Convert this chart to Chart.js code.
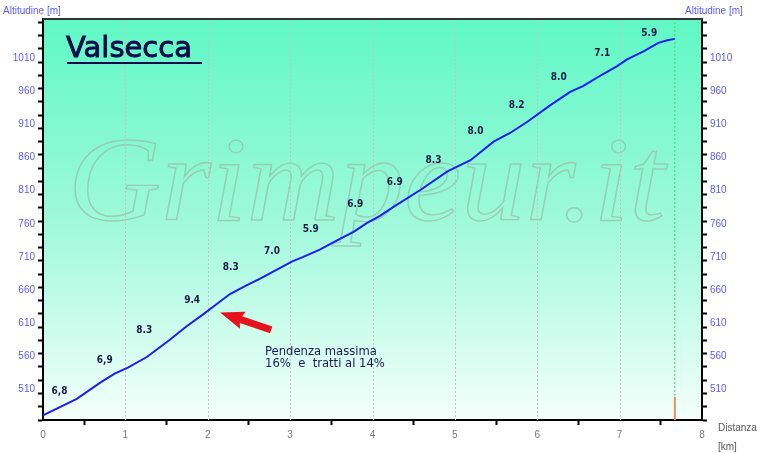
<!DOCTYPE html>
<html>
<head>
<meta charset="utf-8">
<title>Valsecca</title>
<script src="https://cdn.jsdelivr.net/npm/chart.js@4.4.0/dist/chart.umd.min.js"></script>
<style>
  html, body { margin: 0; padding: 0; background: #fff; }
</style>
</head>
<body>
<canvas id="MiGrafico" width="760" height="453"></canvas>
<script>
// profilo della salita: distanza (km) e altitudine (m)
var distanze = [0.00, 0.41, 0.69, 0.87, 1.03, 1.26, 1.54, 1.74, 1.94, 2.11, 2.27, 2.47, 2.63, 2.84, 3.02, 3.16, 3.36, 3.57, 3.77, 3.93,
                4.09, 4.26, 4.58, 4.91, 5.19, 5.47, 5.67, 5.88, 6.16, 6.40, 6.56, 6.80, 6.97, 7.09, 7.29, 7.47, 7.58, 7.67];
var altitudini = [471, 496, 520, 534, 543, 559, 585, 605, 623, 639, 654, 667, 677, 691, 703, 710, 721, 735, 748, 761,
                  772, 786, 811, 839, 856, 884, 897, 914, 939, 959, 968, 986, 998, 1008, 1020, 1033, 1037, 1039];

// pendenze medie per tratto (%) e dove sono scritte
var pendenze = ['6,8', '6,9', '8.3', '9.4', '8.3', '7.0', '5.9', '6.9', '6.9', '8.3', '8.0', '8.2', '8.0', '7.1', '5.9'];
var pendenzeKm = [0.20, 0.75, 1.23, 1.81, 2.28, 2.78, 3.25, 3.79, 4.27, 4.74, 5.25, 5.75, 6.26, 6.79, 7.36];
var pendenzeQuota = [507, 554, 599, 644, 694, 719, 751, 790, 823, 855, 899, 938, 981, 1017, 1048];

// assi
var etichetteY = [510, 560, 610, 660, 710, 760, 810, 860, 910, 960, 1010];
var taccheY = [464, 484, 504, 524, 544, 564, 584, 604, 624, 644, 664, 684, 704, 724, 744, 764,
               784, 804, 824, 844, 864, 884, 904, 924, 944, 964, 984, 1004, 1024, 1044, 1064];
var tacchePlusEtichetteY = taccheY.concat(etichetteY);
var tickX = [0, 0.5, 1, 1.5, 2, 2.5, 3, 3.5, 4, 4.5, 5, 5.5, 6, 6.5, 7, 7.5, 8];
var quotaMin = 464, quotaMax = 1069;
var fineKm = 7.67;
var barraQuota = 499;

// freccia e nota
var frecciaPunta = {x: 2.15, y: 626};
var frecciaCoda = {x: 2.77, y: 600};

var profilo = distanze.map(function (d, i) { return {x: d, y: altitudini[i]}; });

var decorazioni = {
  id: 'decorazioni',
  beforeDraw: function (chart) {
    var ctx = chart.ctx, a = chart.chartArea;
    var g = ctx.createLinearGradient(0, a.top, 0, a.bottom);
    g.addColorStop(0, '#60f8c5');
    g.addColorStop(0.5, '#9ef9da');
    g.addColorStop(1, '#f4fffb');
    ctx.save();
    ctx.fillStyle = g;
    ctx.fillRect(a.left, a.top, a.right - a.left, a.bottom - a.top);
    ctx.restore();
  },
  beforeDatasetsDraw: function (chart) {
    var ctx = chart.ctx, a = chart.chartArea, xs = chart.scales.x;
    ctx.save();
    // scritta in filigrana (allargata in orizzontale)
    ctx.font = 'italic 120px "Liberation Serif"';
    var w = ctx.measureText('Grimpeur.it').width;
    var sx = 597 / w;
    ctx.translate(68, 220);
    ctx.scale(sx, 1);
    ctx.strokeStyle = 'rgba(150,196,176,0.8)';
    ctx.lineWidth = 1.4;
    ctx.textBaseline = 'alphabetic';
    ctx.strokeText('Grimpeur.it', 0, 0);
    ctx.setTransform(1, 0, 0, 1, 0, 0);
    // griglia verticale tratteggiata
    ctx.strokeStyle = '#c4c4c4';
    ctx.lineWidth = 1;
    ctx.setLineDash([2, 2]);
    for (var k = 1; k <= 7; k++) {
      var px = Math.round(xs.getPixelForValue(k)) + 0.5;
      ctx.beginPath();
      ctx.moveTo(px, a.top);
      ctx.lineTo(px, a.bottom);
      ctx.stroke();
    }
    ctx.restore();
  },
  afterDatasetsDraw: function (chart) {
    var ctx = chart.ctx, a = chart.chartArea, xs = chart.scales.x, ys = chart.scales.y;
    ctx.save();
    // bordo superiore
    ctx.strokeStyle = '#333';
    ctx.lineWidth = 2;
    ctx.beginPath();
    ctx.moveTo(a.left, a.top);
    ctx.lineTo(a.right, a.top);
    ctx.stroke();

    // pendenze
    ctx.font = 'bold 10px "DejaVu Sans Condensed", "DejaVu Sans"';
    ctx.fillStyle = '#1b1b48';
    ctx.textAlign = 'center';
    ctx.textBaseline = 'middle';
    pendenze.forEach(function (p, i) {
      ctx.fillText(p, xs.getPixelForValue(pendenzeKm[i]), ys.getPixelForValue(pendenzeQuota[i]));
    });

    // titolo
    ctx.font = '29px "DejaVu Sans"';
    ctx.fillStyle = '#0c0c4a';
    ctx.strokeStyle = '#0c0c4a';
    ctx.lineWidth = 0.9;
    ctx.textAlign = 'left';
    ctx.textBaseline = 'alphabetic';
    ctx.fillText('Valsecca', 66, 57);
    ctx.strokeText('Valsecca', 66, 57);
    ctx.fillRect(67, 62, 135, 2);

    // freccia rossa
    var tx = xs.getPixelForValue(frecciaPunta.x), ty = ys.getPixelForValue(frecciaPunta.y);
    var cx = xs.getPixelForValue(frecciaCoda.x), cy = ys.getPixelForValue(frecciaCoda.y);
    var ang = Math.atan2(cy - ty, cx - tx);
    var len = Math.hypot(cx - tx, cy - ty);
    ctx.translate(tx, ty);
    ctx.rotate(ang);
    ctx.fillStyle = '#e8121c';
    ctx.beginPath();
    ctx.moveTo(0, 0);
    ctx.lineTo(24, -9);
    ctx.lineTo(22, -3.5);
    ctx.lineTo(len, -3.5);
    ctx.lineTo(len, 3.5);
    ctx.lineTo(22, 3.5);
    ctx.lineTo(24, 9);
    ctx.closePath();
    ctx.fill();
    ctx.setTransform(1, 0, 0, 1, 0, 0);

    // nota
    ctx.font = '11.6px "DejaVu Sans"';
    ctx.fillStyle = '#1a1a58';
    ctx.textBaseline = 'middle';
    ctx.fillText('Pendenza massima', 265, 352);
    ctx.fillText('16%  e  tratti al 14%', 265, 364);

    // titoli degli assi
    ctx.font = '10px "Liberation Sans"';
    ctx.fillStyle = '#5a5aff';
    ctx.fillText('Altitudine [m]', 3, 11);
    ctx.fillText('Altitudine [m]', 685, 11);
    ctx.fillStyle = '#555';
    ctx.fillText('Distanza', 718, 428);
    ctx.fillText('[km]', 718, 447);
    ctx.restore();
  }
};

var miGrafico = document.getElementById('MiGrafico').getContext('2d');

var asseY = function (pos, larghezza) {
  return {
    type: 'linear',
    position: pos,
    min: quotaMin,
    max: quotaMax,
    afterBuildTicks: function (s) {
      s.ticks = tacchePlusEtichetteY.map(function (v) { return {value: v}; });
    },
    afterFit: function (s) { s.width = larghezza; },
    ticks: {
      autoSkip: false,
      color: '#5a5aff',
      padding: 3,
      font: {family: 'Liberation Sans', size: 10},
      callback: function (v) { return etichetteY.indexOf(v) >= 0 ? String(v) : ''; }
    },
    grid: {
      drawOnChartArea: false,
      tickLength: 5,
      tickWidth: 2,
      tickColor: function (c) { return etichetteY.indexOf(c.tick.value) >= 0 ? 'rgba(0,0,0,0)' : '#000'; }
    },
    border: {display: true, color: '#000', width: 2}
  };
};

var chart = new Chart(miGrafico, {
  type: 'line',
  data: {
    datasets: [
      {
        label: 'Altitudine',
        data: profilo,
        borderColor: '#1d1df2',
        borderWidth: 2,
        pointRadius: 0,
        tension: 0,
        fill: false
      },
      {
        label: 'Barra',
        data: [{x: fineKm, y: quotaMin}, {x: fineKm, y: barraQuota}],
        borderColor: '#e8906c',
        borderWidth: 2,
        pointRadius: 0
      },
      {
        label: 'Arrivo',
        data: [{x: fineKm, y: quotaMin}, {x: fineKm, y: quotaMax}],
        borderColor: '#3ee03e',
        borderWidth: 1,
        borderDash: [2, 2],
        pointRadius: 0
      }
    ]
  },
  options: {
    responsive: false,
    animation: false,
    devicePixelRatio: 1,
    layout: {padding: {top: 19, left: 0, right: 0, bottom: 0}},
    plugins: {legend: {display: false}, tooltip: {enabled: false}},
    scales: {
      x: {
        type: 'linear',
        min: 0,
        max: 8,
        afterBuildTicks: function (s) {
          s.ticks = tickX.map(function (v) { return {value: v}; });
        },
        afterFit: function (s) { s.height = 33; },
        ticks: {
          autoSkip: false,
          maxRotation: 0,
          color: '#7a7a7a',
          padding: 4,
          font: {family: 'Liberation Sans', size: 10},
          callback: function (v) { return Number.isInteger(v) ? String(v) : ''; }
        },
        grid: {
          drawOnChartArea: false,
          tickLength: 5,
          tickWidth: 2,
          tickColor: function (c) { return Number.isInteger(c.tick.value) ? 'rgba(0,0,0,0)' : '#000'; }
        },
        border: {display: true, color: '#000', width: 2}
      },
      y: asseY('left', 43),
      y2: asseY('right', 58)
    }
  },
  plugins: [decorazioni]
});
</script>
</body>
</html>
